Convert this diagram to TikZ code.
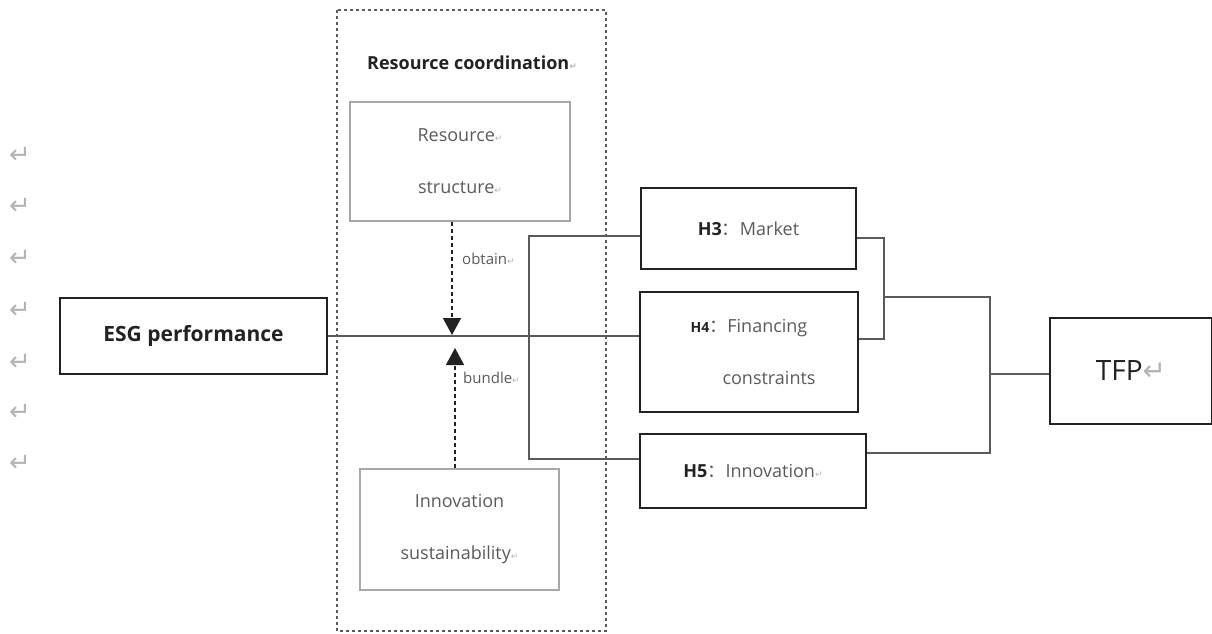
\documentclass[tikz,border=0pt]{standalone}
\usepackage{fontspec}
\setmainfont{Open Sans}
\newfontfamily\cjk{Noto Sans CJK SC}
\newfontfamily\symfont{DejaVu Sans}
\usetikzlibrary{arrows.meta,calc}
\definecolor{boxline}{HTML}{222222}
\definecolor{softline}{HTML}{A8A8A8}
\definecolor{labeltext}{HTML}{5A5A5A}
\definecolor{markgray}{HTML}{B4B4B4}
\newcommand{\retmark}{{\symfont\color{markgray}\char"21B5}}
\newcommand{\smallret}{{\fontsize{9}{9}\selectfont\retmark}}
\newcommand{\hcolon}{{\cjk ：}}
\tikzset{
  heavybox/.style={draw=boxline, line width=2.8pt, inner sep=0pt, text=labeltext,
    align=center, font=\fontsize{18}{52}\selectfont},
  softbox/.style={draw=softline, line width=1.5pt, inner sep=0pt, text=labeltext,
    align=center, font=\fontsize{18}{52}\selectfont},
  link/.style={draw=labeltext, line width=1.6pt},
  dasharrow/.style={draw=boxline, line width=1.5pt, dash pattern=on 4pt off 3pt,
    -{Triangle[width=18pt,length=17pt]}},
  edgelabel/.style={anchor=west, inner sep=0pt, text=labeltext, font=\fontsize{15}{15}\selectfont}
}
\begin{document}
\begin{tikzpicture}[x=1pt,y=-1pt]
\useasboundingbox (0,0) rectangle (1212,634);
% paragraph marks on the left
\foreach \yy in {155,206,258,310,362,412,463}
  \node at (20,\yy) {\fontsize{26}{26}\selectfont\retmark};
% resource coordination frame
\draw[draw=labeltext, line width=1.5pt, dash pattern=on 3pt off 3pt] (337,10) rectangle (606,631);
\node[text=boxline] (title) at (472,63) {\fontsize{18}{18}\selectfont\bfseries Resource coordination\smallret};
\node[softbox, minimum width=220pt, minimum height=119pt] (rstruct) at (460,161.5)
  {Resource\smallret\\ structure\smallret};
\node[softbox, minimum width=199pt, minimum height=121pt] (isust) at (459.5,529.5)
  {Innovation\\ sustainability\smallret};
% main boxes
\node[heavybox, minimum width=267pt, minimum height=76pt, text=boxline] (esg) at (193.5,336)
  {\fontsize{21}{21}\selectfont\bfseries ESG performance};
\node[heavybox, minimum width=215pt, minimum height=81pt] (h3) at (748.5,228.5)
  {{\bfseries\color{boxline}H3}\hcolon Market};
\node[heavybox, minimum width=218pt, minimum height=120pt] (h4) at (749,352)
  {{\fontsize{14}{14}\selectfont\bfseries\color{boxline}H4}\hcolon Financing\\ \hspace*{40pt}constraints};
\node[heavybox, minimum width=226pt, minimum height=74pt] (h5) at (753,471)
  {{\bfseries\color{boxline}H5}\hcolon Innovation\smallret};
\node[heavybox, minimum width=162pt, minimum height=106pt, text=boxline] (tfp) at (1131,371)
  {\fontsize{28}{28}\selectfont TFP\retmark};
% dashed arrows
\coordinate (obtaintip) at (452,335);
\coordinate (bundletip) at (455,348);
\draw[dasharrow] (rstruct.south -| obtaintip) -- (obtaintip);
\draw[dasharrow] (isust.north -| bundletip) -- (bundletip);
\node[edgelabel] (obtain) at (462,259) {obtain\smallret};
\node[edgelabel] (bundle) at (463,378) {bundle\smallret};
% left connectors
\coordinate (split3) at (529,236);
\coordinate (split5) at (529,459);
\draw[link] (esg.east) -- (esg.east -| h4.west);
\draw[link] (h3.west |- split3) -- (split3) -- (split5) -- (h5.west |- split5);
% right connectors
\coordinate (join3) at (884,238);
\coordinate (join4) at (884,339);
\coordinate (join34) at (884,297);
\coordinate (joinup) at (990,297);
\coordinate (join5) at (990,453);
\coordinate (joinout) at (990,374);
\draw[link] (h3.east |- join3) -- (join3) -- (join4) -- (h4.east |- join4);
\draw[link] (join34) -- (joinup) -- (join5) -- (h5.east |- join5);
\draw[link] (joinout) -- (tfp.west |- joinout);
\end{tikzpicture}
\end{document}
